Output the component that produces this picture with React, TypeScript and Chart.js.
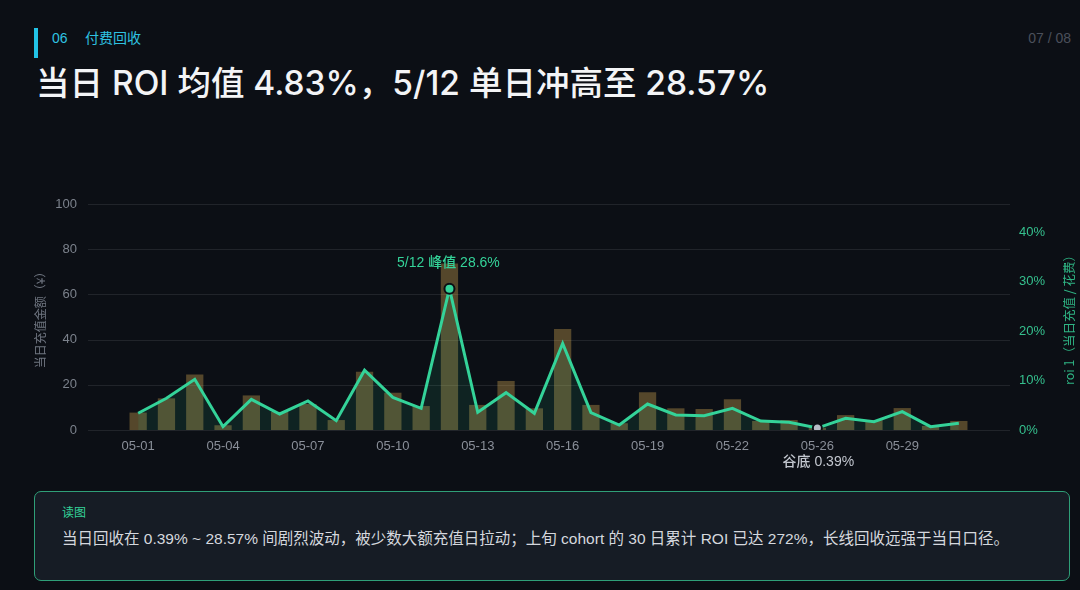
import React, { useEffect, useRef } from 'react';
import { Chart, registerables } from 'chart.js';

Chart.register(...registerables);

// ---- data ----
const dates = [
  '05-01', '05-02', '05-03', '05-04', '05-05', '05-06', '05-07', '05-08', '05-09', '05-10',
  '05-11', '05-12', '05-13', '05-14', '05-15', '05-16', '05-17', '05-18', '05-19', '05-20',
  '05-21', '05-22', '05-23', '05-25', '05-26', '05-27', '05-28', '05-29', '05-30', '05-31',
];
const recharge = [
  7.7, 14.0, 24.6, 2.1, 15.3, 8.0, 11.5, 4.4, 25.8, 16.5,
  10.6, 73.7, 11.1, 21.7, 9.6, 44.7, 11.1, 3.0, 16.7, 9.6,
  9.3, 13.6, 4.0, 4.4, 1.0, 6.6, 4.4, 9.7, 1.8, 4.0,
];
const roi = [
  3.38, 6.41, 10.25, 0.67, 6.2, 3.24, 5.87, 1.89, 12.1, 6.6,
  4.38, 28.57, 3.57, 7.55, 3.37, 17.5, 3.5, 1.0, 5.26, 3.03,
  2.9, 4.38, 1.82, 1.55, 0.39, 2.36, 1.69, 3.71, 0.67, 1.35,
];
const leftMax = 100;
const leftStep = 20;
const rightMax = 45.7;
const rightStep = 10;
const peakIndex = 11;
const valleyIndex = 24;
const peakLabel = '5/12 峰值 28.6%';
const valleyLabel = '谷底 0.39%';
const leftTitle = '当日充值金额（¥）';
const rightTitle = 'roi 1（当日充值 / 花费）';

const BG = '#0c0f15';
const GREEN = '#34d399';
const FONT = '"Liberation Sans", "Noto Sans CJK SC", sans-serif';
const TITLE_FONT = 'Inter, "Noto Sans CJK SC", sans-serif';
const CJK = '"Noto Sans CJK SC", "Liberation Sans", sans-serif';

const decorPlugin = {
  id: 'decor',
  beforeDatasetsDraw(chart: any) {
    const { ctx, chartArea } = chart;
    const y = chart.scales.y;
    ctx.save();
    ctx.strokeStyle = 'rgba(255,255,255,0.09)';
    ctx.lineWidth = 1;
    y.ticks.forEach((t: any) => {
      const py = Math.round(y.getPixelForValue(t.value)) + 0.5;
      ctx.beginPath();
      ctx.moveTo(chartArea.left - 36, py);
      ctx.lineTo(chartArea.right + 37, py);
      ctx.stroke();
    });
    ctx.restore();
  },
  afterDatasetsDraw(chart: any) {
    const { ctx, chartArea } = chart;
    const x = chart.scales.x;
    const y1 = chart.scales.y1;
    ctx.save();
    ctx.font = '500 14px ' + FONT;
    ctx.fillStyle = GREEN;
    ctx.textAlign = 'center';
    ctx.textBaseline = 'middle';
    ctx.fillText(peakLabel, x.getPixelForValue(peakIndex) - 1, y1.getPixelForValue(roi[peakIndex]) - 26);
    ctx.font = '500 14px ' + FONT;
    ctx.fillStyle = '#c3c7cf';
    ctx.fillText(valleyLabel, x.getPixelForValue(valleyIndex) + 1, chartArea.bottom + 32);
    const midY = (chartArea.top + chartArea.bottom) / 2;
    ctx.font = '12px ' + CJK;
    ctx.fillStyle = '#6f7580';
    ctx.translate(chartArea.left - 84, midY);
    ctx.rotate(-Math.PI / 2);
    ctx.fillText(leftTitle, 0, 0);
    ctx.restore();
    ctx.save();
    ctx.font = '12.5px ' + CJK;
    ctx.fillStyle = '#2fb584';
    ctx.textAlign = 'center';
    ctx.textBaseline = 'middle';
    ctx.translate(chartArea.right + 96, midY);
    ctx.rotate(-Math.PI / 2);
    ctx.fillText(rightTitle, 0, 0);
    ctx.restore();
  },
};

function RoiChart() {
  const ref = useRef<HTMLCanvasElement>(null);
  useEffect(() => {
    if (!ref.current) return;
    const chart = new Chart(ref.current, {
      type: 'bar',
      data: {
        labels: dates,
        datasets: [
          {
            type: 'line',
            label: 'roi',
            data: roi,
            yAxisID: 'y1',
            order: 0,
            borderColor: GREEN,
            borderWidth: 3,
            tension: 0,
            fill: 'origin',
            backgroundColor: 'rgba(52,211,153,0.10)',
            pointRadius: (c: any) => (c.dataIndex === peakIndex ? 5 : c.dataIndex === valleyIndex ? 4.5 : 0),
            pointBackgroundColor: (c: any) => (c.dataIndex === valleyIndex ? '#b7bcc6' : GREEN),
            pointBorderColor: BG,
            pointBorderWidth: 2,
          } as any,
          {
            type: 'bar',
            label: 'recharge',
            data: recharge,
            yAxisID: 'y',
            order: 1,
            backgroundColor: 'rgba(240,190,90,0.32)',
            borderWidth: 0,
            categoryPercentage: 1,
            barPercentage: 0.61,
          } as any,
        ],
      },
      options: {
        responsive: false,
        animation: false,
        layout: { padding: { top: 24, left: 0, right: 0, bottom: 0 } },
        plugins: { legend: { display: false }, tooltip: { enabled: false } },
        scales: {
          x: {
            grid: { display: false, drawTicks: false, tickLength: 0 },
            border: { display: false },
            afterFit: (s: any) => { s.height = 50; s.paddingLeft = 0; s.paddingRight = 0; },
            ticks: {
              autoSkip: false,
              maxRotation: 0,
              padding: 9,
              color: '#8a8f99',
              font: { size: 13, family: FONT },
              callback: (_v: any, i: number) => (i % 3 === 0 ? dates[i] : ''),
            },
          },
          y: {
            position: 'left',
            min: 0,
            max: leftMax,
            grid: { display: false, drawTicks: false, tickLength: 0 },
            border: { display: false },
            afterFit: (s: any) => { s.width = 124; s.paddingTop = 0; s.paddingBottom = 0; },
            ticks: {
              stepSize: leftStep,
              padding: 47,
              color: '#7c828c',
              font: { size: 13, family: FONT },
            },
          },
          y1: {
            position: 'right',
            min: 0,
            max: rightMax,
            grid: { display: false, drawTicks: false, tickLength: 0 },
            border: { display: false },
            afterFit: (s: any) => { s.width = 107; s.paddingTop = 0; s.paddingBottom = 0; },
            ticks: {
              stepSize: rightStep,
              includeBounds: false,
              padding: 46,
              color: '#35c08e',
              font: { size: 13, family: FONT },
              callback: (v: any) => v + '%',
            },
          },
        },
      },
      plugins: [decorPlugin],
    } as any);
    return () => chart.destroy();
  }, []);
  return <canvas ref={ref} width={1080} height={300} style={{ width: 1080, height: 300, display: 'block' }} />;
}

export default function App() {
  return (
    <div
      style={{
        position: 'fixed', left: 0, top: 0, width: 1080, height: 590, overflow: 'hidden',
        background: BG, fontFamily: FONT,
      }}
    >
      <div style={{ position: 'absolute', left: 34, top: 28, width: 4, height: 30, background: '#22c3e6' }} />
      <div style={{ position: 'absolute', left: 52, top: 30, fontSize: 14, lineHeight: '16px', color: '#2fc3e2' }}>06</div>
      <div style={{ position: 'absolute', left: 85, top: 30, fontSize: 14, lineHeight: '16px', color: '#2fc3e2' }}>付费回收</div>
      <div style={{ position: 'absolute', right: 9, top: 30, fontSize: 14, lineHeight: '16px', color: '#4b505b' }}>07 / 08</div>
      <div style={{ position: 'absolute', left: 36, top: 65, fontSize: 33.5, lineHeight: '36px', fontWeight: 500, color: '#f3f4f6', whiteSpace: 'nowrap', fontFamily: TITLE_FONT }}>
        当日 ROI 均值 4.83%，5/12 单日冲高至 28.57%
      </div>
      <div style={{ position: 'absolute', left: 0, top: 180 }}>
        <RoiChart />
      </div>
      <div
        style={{
          position: 'absolute', left: 34, top: 491, width: 1036, height: 90, boxSizing: 'border-box',
          border: '1px solid #2f9f78', borderRadius: 7, background: '#161c25',
        }}
      >
        <div style={{ position: 'absolute', left: 27, top: 13, fontSize: 12, lineHeight: '16px', color: GREEN }}>读图</div>
        <div style={{ position: 'absolute', left: 27, top: 37, fontSize: 15.5, lineHeight: '20px', color: '#d5d8de', whiteSpace: 'nowrap' }}>
          当日回收在 0.39% ~ 28.57% 间剧烈波动，被少数大额充值日拉动；上旬 cohort 的 30 日累计 ROI 已达 272%，长线回收远强于当日口径。
        </div>
      </div>
    </div>
  );
}
